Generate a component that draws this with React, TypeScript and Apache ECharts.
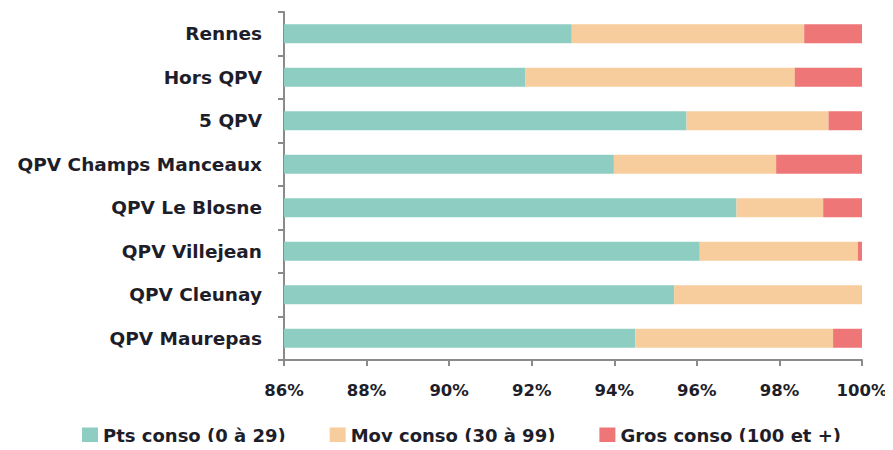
import React, { useEffect, useRef } from "react";
import * as echarts from "echarts";

const categories = [
  "Rennes",
  "Hors QPV",
  "5 QPV",
  "QPV Champs Manceaux",
  "QPV Le Blosne",
  "QPV Villejean",
  "QPV Cleunay",
  "QPV Maurepas",
];
const ptsConso = [92.97, 91.85, 95.75, 93.99, 96.96, 96.07, 95.45, 94.51];
const moyConso = [5.63, 6.52, 3.44, 3.93, 2.1, 3.83, 4.55, 4.79];
const grosConso = [1.4, 1.63, 0.81, 2.08, 0.94, 0.1, 0, 0.7];
const seriesNames = ["Pts conso (0 à 29)", "Moy conso (30 à 99)", "Gros conso (100 et +)"];
const colors = ["#8ecdc2", "#f8cd9d", "#ef7676"];

const FONT = "DejaVu Sans";
const TEXT = "#1e1e2a";

export default function App() {
  const ref = useRef<HTMLDivElement>(null);
  useEffect(() => {
    if (!ref.current) return;
    const chart = echarts.init(ref.current, null, { renderer: "svg" });
    const values = [ptsConso, moyConso, grosConso];
    chart.setOption({
      animation: false,
      backgroundColor: "#ffffff",
      grid: { left: 284, right: 31, top: 12, bottom: 90 },
      xAxis: {
        type: "value",
        min: 86,
        max: 100,
        interval: 2,
        axisLine: { show: true, lineStyle: { color: "#8a8a8a", width: 2 } },
        axisTick: { show: true, length: 6, lineStyle: { color: "#8a8a8a", width: 2 } },
        splitLine: { show: false },
        axisLabel: {
          formatter: "{value}%",
          margin: 22,
          fontFamily: FONT,
          fontSize: 16.5,
          fontWeight: "bold",
          color: TEXT,
        },
      },
      yAxis: {
        type: "category",
        data: categories,
        inverse: true,
        axisLine: { show: true, lineStyle: { color: "#8a8a8a", width: 2 } },
        axisTick: { show: true, length: 6, alignWithLabel: false, lineStyle: { color: "#8a8a8a", width: 2 } },
        axisLabel: {
          margin: 22,
          fontFamily: FONT,
          fontSize: 18.5,
          fontWeight: "bold",
          color: TEXT,
        },
      },
      legend: {
        left: 82,
        top: 426,
        padding: 0,
        itemWidth: 16,
        itemHeight: 15,
        itemGap: 44,
        icon: "rect",
        data: seriesNames,
        textStyle: { fontFamily: FONT, fontSize: 18, fontWeight: "bold", color: TEXT },
      },
      series: seriesNames.map((name, i) => ({
        name,
        type: "bar",
        stack: "total",
        barWidth: 19,
        itemStyle: { color: colors[i] },
        data: values[i],
      })),
    });
    return () => chart.dispose();
  }, []);
  return <div ref={ref} style={{ width: 893, height: 450, margin: -8 }} />;
}
